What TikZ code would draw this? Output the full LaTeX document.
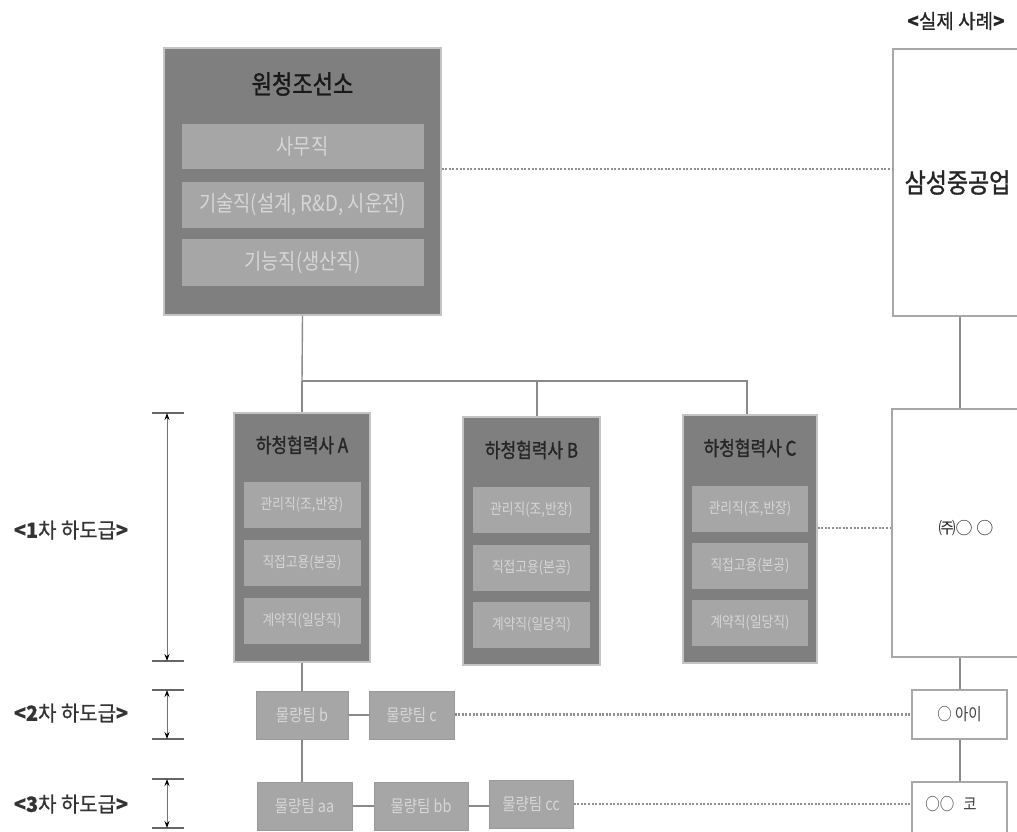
\documentclass[tikz,border=0pt]{standalone}
\usepackage{fontspec}
\setmainfont{Noto Sans CJK KR}
\newfontfamily\krc[FakeStretch=0.85]{Noto Sans CJK KR}
\newfontfamily\krcb[FakeStretch=0.85,FakeBold=1.2]{Noto Sans CJK KR}
\newfontfamily\krl[FakeStretch=0.95,FakeBold=0.6]{Noto Sans CJK KR}
\usetikzlibrary{arrows.meta}
\definecolor{outerfill}{HTML}{7F7F7F}
\definecolor{innerfill}{HTML}{A6A6A6}
\definecolor{innertext}{HTML}{D6D6D6}
\definecolor{outerborder}{HTML}{C4C4C4}
\definecolor{linegray}{HTML}{8A8A8A}
\definecolor{dotgray}{HTML}{909090}
\definecolor{rightborder}{HTML}{A8A8A8}
\definecolor{lowborder}{HTML}{9A9A9A}
\begin{document}
\begin{tikzpicture}[x=1pt,y=-1pt,
  outerbox/.style={draw=outerborder, line width=1.3pt, fill=outerfill, inner sep=0pt},
  innerbox/.style={fill=innerfill, inner sep=0pt, minimum height=46pt, text=innertext, font=\krc\fontsize{15}{17}\selectfont},
  bigtitle/.style={text=black!90, font=\krcb\fontsize{26}{30}\selectfont},
  subtitle/.style={text=black!85, font=\krcb\fontsize{20}{24}\selectfont},
  toptext/.style={innerbox, font=\krc\fontsize{22}{26}\selectfont, minimum width=242pt},
  whitebox/.style={draw=rightborder, line width=1.5pt, fill=white, inner sep=0pt},
  lowbox/.style={draw=lowborder, line width=1pt, fill=innerfill, inner sep=0pt, minimum height=48pt, text=innertext, font=\krc\fontsize{17}{20}\selectfont},
  conn/.style={draw=linegray, line width=1.4pt},
  dotline/.style={draw=dotgray, line width=2.4pt, dash pattern=on 2pt off 1.6pt},
  tickline/.style={draw=black!60, line width=1.8pt},
  dimline/.style={draw=black!55, line width=1pt, {Stealth[length=7pt,width=5pt,black]}-{Stealth[length=7pt,width=5pt,black]}},
  lvl/.style={text=black!80, font=\krl\fontsize{21}{24}\selectfont}
]
\useasboundingbox (0,0) rectangle (1017,831);

% top shipyard box
\node[outerbox, minimum width=277pt, minimum height=267pt] (top) at (302.5,181.5) {};
\node[bigtitle] (toptitle) at (302.5,84) {원청조선소};
\node[toptext, minimum height=45pt] (t1) at (302.5,146) {사무직};
\node[toptext, minimum height=46pt] (t2) at (302.5,205) {기술직(설계, R\&D, 시운전)};
\node[toptext, minimum height=47pt] (t3) at (302.5,262.5) {기능직(생산직)};

% right real-case column
\node[font=\krl\fontsize{20}{24}\selectfont, text=black!85] (real) at (956,21) {\textbf{<}실제 사례\textbf{>}};
\node[whitebox, minimum width=129pt, minimum height=267pt, font=\krcb\fontsize{27}{30}\selectfont, text=black!85] (sam) at (957.5,182.5) {삼성중공업};
\node[whitebox, minimum width=130pt, minimum height=248pt] (ju) at (957,533) {};
\node[font=\fontsize{17}{20}\selectfont, text=black!85] (jutext) at (966,528) {㈜○ ○};
\node[whitebox, minimum width=95pt, minimum height=49pt, font=\krc\fontsize{17}{20}\selectfont, text=black!75] (ai) at (959.5,714.5) {○ 아이};
\node[whitebox, minimum width=95pt, minimum height=58pt] (ko) at (959.5,811) {};
\node[font=\krc\fontsize{17}{20}\selectfont, text=black!75] (kotext) at (951,804) {○○\hspace{9pt}코};

% subcontractors
\node[outerbox, minimum width=136pt, minimum height=249pt] (A) at (302,537.5) {};
\node[subtitle] (Atitle) at (302,445) {하청협력사 A};
\node[innerbox, minimum width=117pt] (A1) at (302,505) {관리직(조,반장)};
\node[innerbox, minimum width=117pt] (A2) at (302,562.5) {직접고용(본공)};
\node[innerbox, minimum width=117pt] (A3) at (302,620.5) {계약직(일당직)};

\node[outerbox, minimum width=137pt, minimum height=248pt] (B) at (531.5,541) {};
\node[subtitle] (Btitle) at (531.5,450) {하청협력사 B};
\node[innerbox, minimum width=117pt] (B1) at (531.5,509.5) {관리직(조,반장)};
\node[innerbox, minimum width=117pt] (B2) at (531.5,567.5) {직접고용(본공)};
\node[innerbox, minimum width=117pt] (B3) at (531.5,624.5) {계약직(일당직)};

\node[outerbox, minimum width=134pt, minimum height=248pt] (C) at (750,539) {};
\node[subtitle] (Ctitle) at (750,448) {하청협력사 C};
\node[innerbox, minimum width=116pt] (C1) at (750,508.5) {관리직(조,반장)};
\node[innerbox, minimum width=116pt] (C2) at (750,566) {직접고용(본공)};
\node[innerbox, minimum width=116pt] (C3) at (750,623) {계약직(일당직)};

% second and third tier teams
\node[lowbox, minimum width=92pt] (b) at (302,715) {물량팀 b};
\node[lowbox, minimum width=85pt] (c) at (411.5,715) {물량팀 c};
\node[lowbox, minimum width=95pt] (aa) at (304.5,806) {물량팀 aa};
\node[lowbox, minimum width=94pt] (bb) at (421,806) {물량팀 bb};
\node[lowbox, minimum width=84pt] (cc) at (531,804) {물량팀 cc};

% connectors
\coordinate (j) at (302,381);
\draw[conn] (top.south) -- (j);
\draw[conn] (j) -- (A.north);
\draw[conn] (j) -| ([xshift=5.5pt]B.north);
\draw[conn] (j) -| ([xshift=-3pt]C.north);
\draw[conn] (A.south) -- (b.north);
\draw[conn] (b.east) -- (c.west);
\draw[conn] (b.south) -- (b.south |- aa.north);
\draw[conn] (aa.east) -- (bb.west);
\draw[conn] (bb.east) -- (bb.east -| cc.west);
\draw[conn] ([xshift=2.5pt]sam.south) -- ([xshift=3pt]ju.north);
\draw[conn] ([xshift=3pt]ju.south) -- ([xshift=0.5pt]ai.north);
\draw[conn] ([xshift=0.5pt]ai.south) -- ([xshift=0.5pt]ko.north);

\draw[dotline] ([yshift=12.5pt]top.east) coordinate (d1) -- (d1 -| sam.west);
\draw[dotline] ([yshift=11pt]C.east) coordinate (d2) -- (d2 -| ju.west);
\draw[dotline] ([yshift=0.5pt]c.east) coordinate (d3) -- (d3 -| ai.west);
\draw[dotline] (cc.east) -- (cc.east -| ko.west);

% tier dimension markers
\coordinate (m1t) at (167,413); \coordinate (m1b) at (167,661);
\coordinate (m2t) at (167,690); \coordinate (m2b) at (167,739);
\coordinate (m3t) at (167,779); \coordinate (m3b) at (167,828);
\foreach \m in {m1t,m1b,m2t,m2b,m3t,m3b}{
  \draw[tickline] ([xshift=-15pt]\m) -- ([xshift=17pt]\m);
}
\draw[dimline] (m1t) -- (m1b);
\draw[dimline] (m2t) -- (m2b);
\draw[dimline] (m3t) -- (m3b);

\node[lvl] (l1) at (71,530) {\textbf{<1}차 하도급\textbf{>}};
\node[lvl] (l2) at (71,713) {\textbf{<2}차 하도급\textbf{>}};
\node[lvl] (l3) at (71,804) {\textbf{<3}차 하도급\textbf{>}};
\end{tikzpicture}
\end{document}
